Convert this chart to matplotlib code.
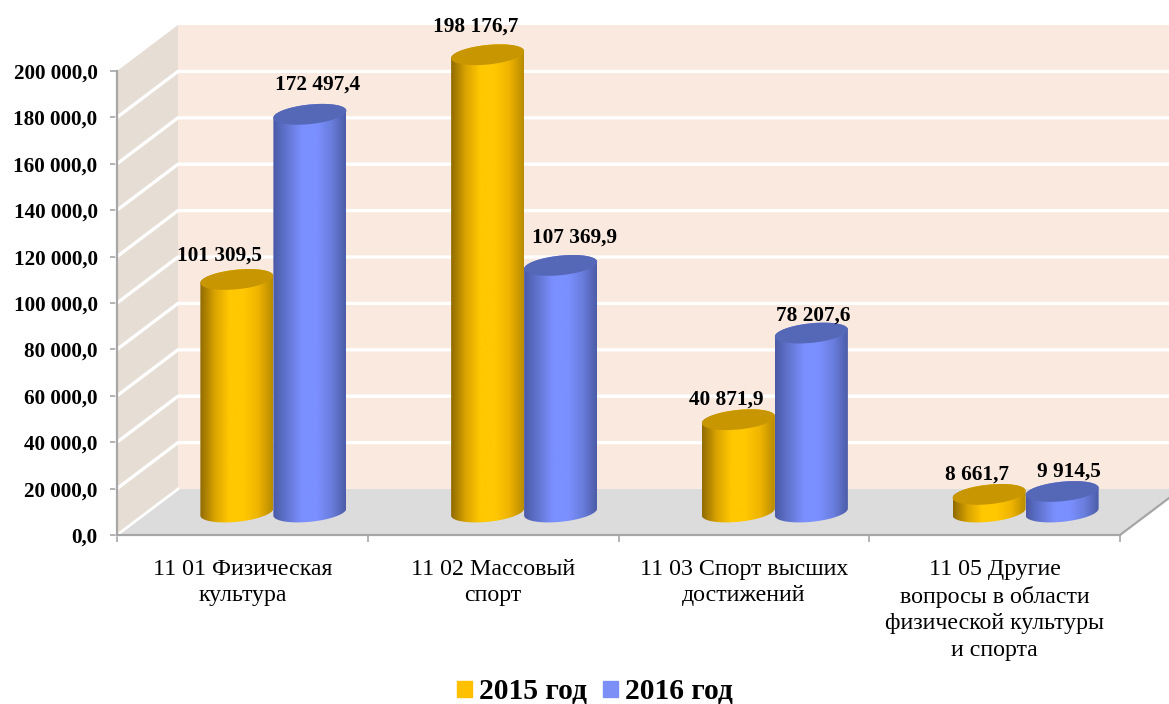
import numpy as np
import matplotlib
matplotlib.use('Agg')
import matplotlib.pyplot as plt
from matplotlib.colors import LinearSegmentedColormap
from matplotlib.patches import Patch, Polygon

plt.rcParams['font.family'] = ['Liberation Serif', 'DejaVu Serif']

########## DATOS ##########
categorias = ['11 01 Физическая\nкультура',
              '11 02 Массовый\nспорт',
              '11 03 Спорт высших\nдостижений',
              '11 05 Другие\nвопросы в области\nфизической культуры\nи спорта']
valores_2015 = [101309.5, 198176.7, 40871.9, 8661.7]
valores_2016 = [172497.4, 107369.9, 78207.6, 9914.5]
ticks_y = [0, 20000, 40000, 60000, 80000, 100000, 120000, 140000, 160000, 180000, 200000]
series = ['2015 год', '2016 год']

# desplazamiento de cada etiqueta respecto a la tapa del cilindro (px)
offset_2015 = [(-17, 24), (-12, 28), (-12, 20), (-12, 20)]
offset_2016 = [(8, 30), (14, 28), (2, 17), (7, 20)]

########## ESCALAS ##########
W, H = 1169, 704
px_x = 1 / 250.75         # categorias por pixel
px_y = 200000 / 464       # valor por pixel
fondo_x, fondo_y = 61 * px_x, 46 * px_y   # profundidad de las paredes
base_y = 23 * px_y        # centro de la base del cilindro
base_tapa = 20.5 * px_y   # la tapa se mide desde aqui
ancho = 36.5 * px_x       # radio horizontal
radio_y = 9.8 * px_y      # radio vertical de la elipse
sesgo = 3.5 * px_y        # inclinacion de la elipse
desp = 31 * px_x

fig = plt.figure(figsize=(W / 100, H / 100), dpi=100, facecolor='white')
ax = fig.add_axes([117 / W, (H - 535) / H, (1120 - 117) / W, 464 / H])
ax.set_xlim(0, 4)
ax.set_ylim(0, 200000)
ax.patch.set_visible(False)

########## PAREDES ##########
tope = max(ticks_y)
ax.add_patch(Polygon([(fondo_x, fondo_y), (fondo_x + 4, fondo_y), (fondo_x + 4, tope + fondo_y), (fondo_x, tope + fondo_y)],
                     fc='#f9e9df', ec='none', clip_on=False, zorder=1))
ax.add_patch(Polygon([(0, 0), (fondo_x, fondo_y), (fondo_x, tope + fondo_y), (0, tope)],
                     fc='#e6ddd5', ec='none', clip_on=False, zorder=1))
for v in ticks_y[1:-1]:
    ax.plot([0, fondo_x, fondo_x + 4], [v, v + fondo_y, v + fondo_y], color='white', lw=2.4, clip_on=False, zorder=2)
ax.add_patch(Polygon([(0, 0), (fondo_x, fondo_y), (fondo_x + 4, fondo_y), (4, 0)],
                     fc='#dcdcdc', ec='none', clip_on=False, zorder=3))
ax.plot([0, fondo_x], [0, fondo_y], color='white', lw=2, clip_on=False, zorder=3)
ax.plot([4, fondo_x + 4], [0, fondo_y], color='#a6a6a6', lw=1.6, clip_on=False, zorder=3)

########## CILINDROS ##########
cmap_nar = LinearSegmentedColormap.from_list('nar', ['#8f6a00', '#d9a300', '#ffc800', '#ffc800', '#eeb400', '#b98c00'])
cmap_azu = LinearSegmentedColormap.from_list('azu', ['#4a5aa6', '#6376d2', '#7b90ff', '#7b90ff', '#6a7ede', '#4c5ca8'])
t = np.linspace(0, 2 * np.pi, 121)


def cilindro(xc, valor, cmap, color_tapa, z):
    y_top = base_tapa + valor
    arriba = np.linspace(np.pi, 0, 60)
    abajo = np.linspace(0, -np.pi, 60)
    xs = np.r_[xc + ancho * np.cos(arriba), xc + ancho * np.cos(abajo)]
    ys = np.r_[y_top + radio_y * np.sin(arriba) + sesgo * np.cos(arriba),
               base_y + radio_y * np.sin(abajo) + sesgo * np.cos(abajo)]
    cuerpo = Polygon(np.c_[xs, ys], fc='none', ec='none', transform=ax.transData, clip_on=False, zorder=z)
    ax.add_patch(cuerpo)
    grad = np.linspace(0, 1, 256).reshape(1, -1)
    im = ax.imshow(grad, cmap=cmap, aspect='auto', interpolation='bilinear', zorder=z,
                   extent=[xc - ancho, xc + ancho, base_y - 2 * radio_y, y_top + 2 * radio_y])
    im.set_clip_box(fig.bbox)
    im.set_clip_path(cuerpo)
    ax.fill(xc + ancho * np.cos(t), y_top + radio_y * np.sin(t) + sesgo * np.cos(t),
           color=color_tapa, lw=0, clip_on=False, zorder=z + 0.1)


def texto_valor(v):
    return f'{v:,.1f}'.replace(',', ' ').replace('.', ',')


for i in range(4):
    x1 = i + 0.5 + desp - ancho
    x2 = i + 0.5 + desp + ancho
    cilindro(x1, valores_2015[i], cmap_nar, '#c89600', 4 + i)
    cilindro(x2, valores_2016[i], cmap_azu, '#5568b8', 4.4 + i)
    ax.annotate(texto_valor(valores_2015[i]), (x1, base_tapa + valores_2015[i]),
                xytext=(offset_2015[i][0] * 0.72, offset_2015[i][1] * 0.72), textcoords='offset points',
                ha='center', va='center', fontsize=15.3, fontweight='bold', annotation_clip=False, zorder=20)
    ax.annotate(texto_valor(valores_2016[i]), (x2, base_tapa + valores_2016[i]),
                xytext=(offset_2016[i][0] * 0.72, offset_2016[i][1] * 0.72), textcoords='offset points',
                ha='center', va='center', fontsize=15.3, fontweight='bold', annotation_clip=False, zorder=20)

ax.set_xlim(0, 4)
ax.set_ylim(0, 200000)

########## EJES ##########
for lado in ['top', 'right']:
    ax.spines[lado].set_visible(False)
for lado in ['left', 'bottom']:
    ax.spines[lado].set_color('#a6a6a6')
    ax.spines[lado].set_linewidth(1.6)
    ax.spines[lado].set_zorder(15)

ax.set_yticks(ticks_y)
ax.set_yticklabels([texto_valor(v) for v in ticks_y], fontsize=15.2, fontweight='bold')
ax.tick_params(axis='y', length=5, width=1.2, color='#a6a6a6', pad=9)

ax.set_xticks(np.arange(4) + 0.5)
ax.set_xticklabels(categorias, fontsize=17.2, linespacing=1.35)
ax.tick_params(axis='x', which='major', length=0, pad=17)
ax.set_xticks(np.arange(5), minor=True)
ax.tick_params(axis='x', which='minor', length=5, width=1.2, color='#a6a6a6')

########## LEYENDA ##########
fig.legend(handles=[Patch(color='#ffc000', label=series[0]), Patch(color='#7b8ff7', label=series[1])],
           loc='center', bbox_to_anchor=(595 / W, (H - 692) / H), ncol=2, frameon=False,
           prop={'size': 21.3, 'weight': 'bold'}, handlelength=0.5, handleheight=0.5,
           handletextpad=0.25, columnspacing=0.55, borderpad=0)

fig.savefig('out.png', dpi=100)
